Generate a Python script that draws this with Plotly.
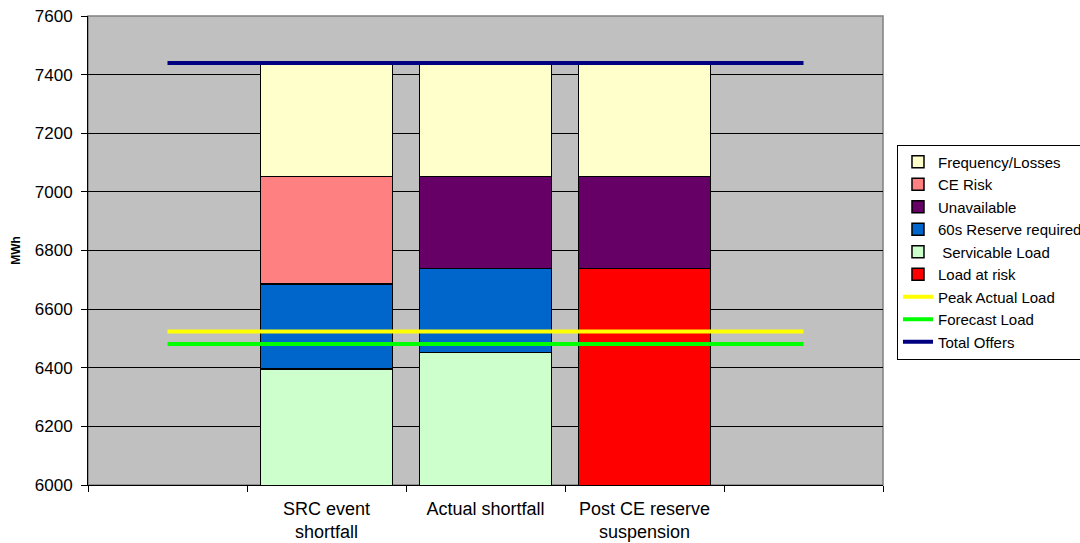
import plotly.graph_objects as go

# Scenario columns (blank positions either side hold only the reference lines)
categories = ["SRC event<br>shortfall", "Actual shortfall", "Post CE reserve<br>suspension"]
bar_x = [1, 2, 3]
line_x = [0, 1, 2, 3, 4]

# Stacked components, MWh (bottom to top)
load_at_risk = [None, None, 6739]
servicable_load = [6395, 6452, None]
reserve_60s = [291, 287, None]
unavailable = [None, 314, 314]
ce_risk = [367, None, None]
frequency_losses = [382, 382, 382]

# Horizontal reference levels, MWh
total_offers = 7440
peak_actual_load = 6524
forecast_load = 6481

bar_series = [
    ("Load at risk", load_at_risk, "#FF0000", 6),
    (" Servicable Load", servicable_load, "#CCFFCC", 5),
    ("60s Reserve required", reserve_60s, "#0066CC", 4),
    ("Unavailable", unavailable, "#660066", 3),
    ("CE Risk", ce_risk, "#FF8080", 2),
    ("Frequency/Losses", frequency_losses, "#FFFFCC", 1),
]

line_series = [
    ("Peak Actual Load", peak_actual_load, "#FFFF00", 7),
    ("Forecast Load", forecast_load, "#00FF00", 8),
    ("Total Offers", total_offers, "#000080", 9),
]

fig = go.Figure()

for name, vals, color, rank in bar_series:
    fig.add_trace(go.Bar(
        x=bar_x, y=vals, name=name, legendrank=rank,
        marker=dict(color=color, line=dict(color="#000000", width=1.5)),
    ))

for name, level, color, rank in line_series:
    fig.add_trace(go.Scatter(
        x=line_x, y=[level] * len(line_x), name=name, legendrank=rank,
        mode="lines", line=dict(color=color, width=4),
    ))

fig.update_layout(
    width=1080, height=543,
    barmode="stack", bargap=0.17,
    paper_bgcolor="#FFFFFF", plot_bgcolor="#C0C0C0",
    margin=dict(l=88, r=197, t=16, b=58, autoexpand=False),
    font=dict(family="Arial, Liberation Sans, sans-serif", color="#000000"),
    legend=dict(
        x=1.0176, y=0.726, xanchor="left", yanchor="top",
        traceorder="normal",
        bgcolor="#FFFFFF", bordercolor="#000000", borderwidth=1,
        font=dict(size=15), tracegroupgap=0, itemwidth=30,
    ),
    xaxis=dict(
        range=[-0.5, 4.5], tickmode="array", tickvals=bar_x, ticktext=categories,
        ticks="", showgrid=False, zeroline=False,
        showline=True, linecolor="#000000", linewidth=1,
        tickfont=dict(size=18), ticklabelstandoff=7,
        minor=dict(tickmode="array", tickvals=[-0.5, 0.5, 1.5, 2.5, 3.5, 4.5],
                   ticks="outside", ticklen=6, tickcolor="#000000", showgrid=False),
    ),
    yaxis=dict(
        range=[6000, 7600], dtick=200, tick0=6000,
        showgrid=True, gridcolor="#000000", gridwidth=1,
        zeroline=False, showline=True, linecolor="#000000", linewidth=1,
        ticks="outside", ticklen=6, tickcolor="#000000",
        tickfont=dict(size=17), ticklabelstandoff=5,
        title=dict(text="<b>MWh</b>", font=dict(size=12), standoff=11),
    ),
    shapes=[dict(type="rect", xref="paper", yref="paper", x0=0, y0=0, x1=1, y1=1,
                 line=dict(color="#808080", width=1.5), layer="below")],
)

fig.write_html("out.html")
